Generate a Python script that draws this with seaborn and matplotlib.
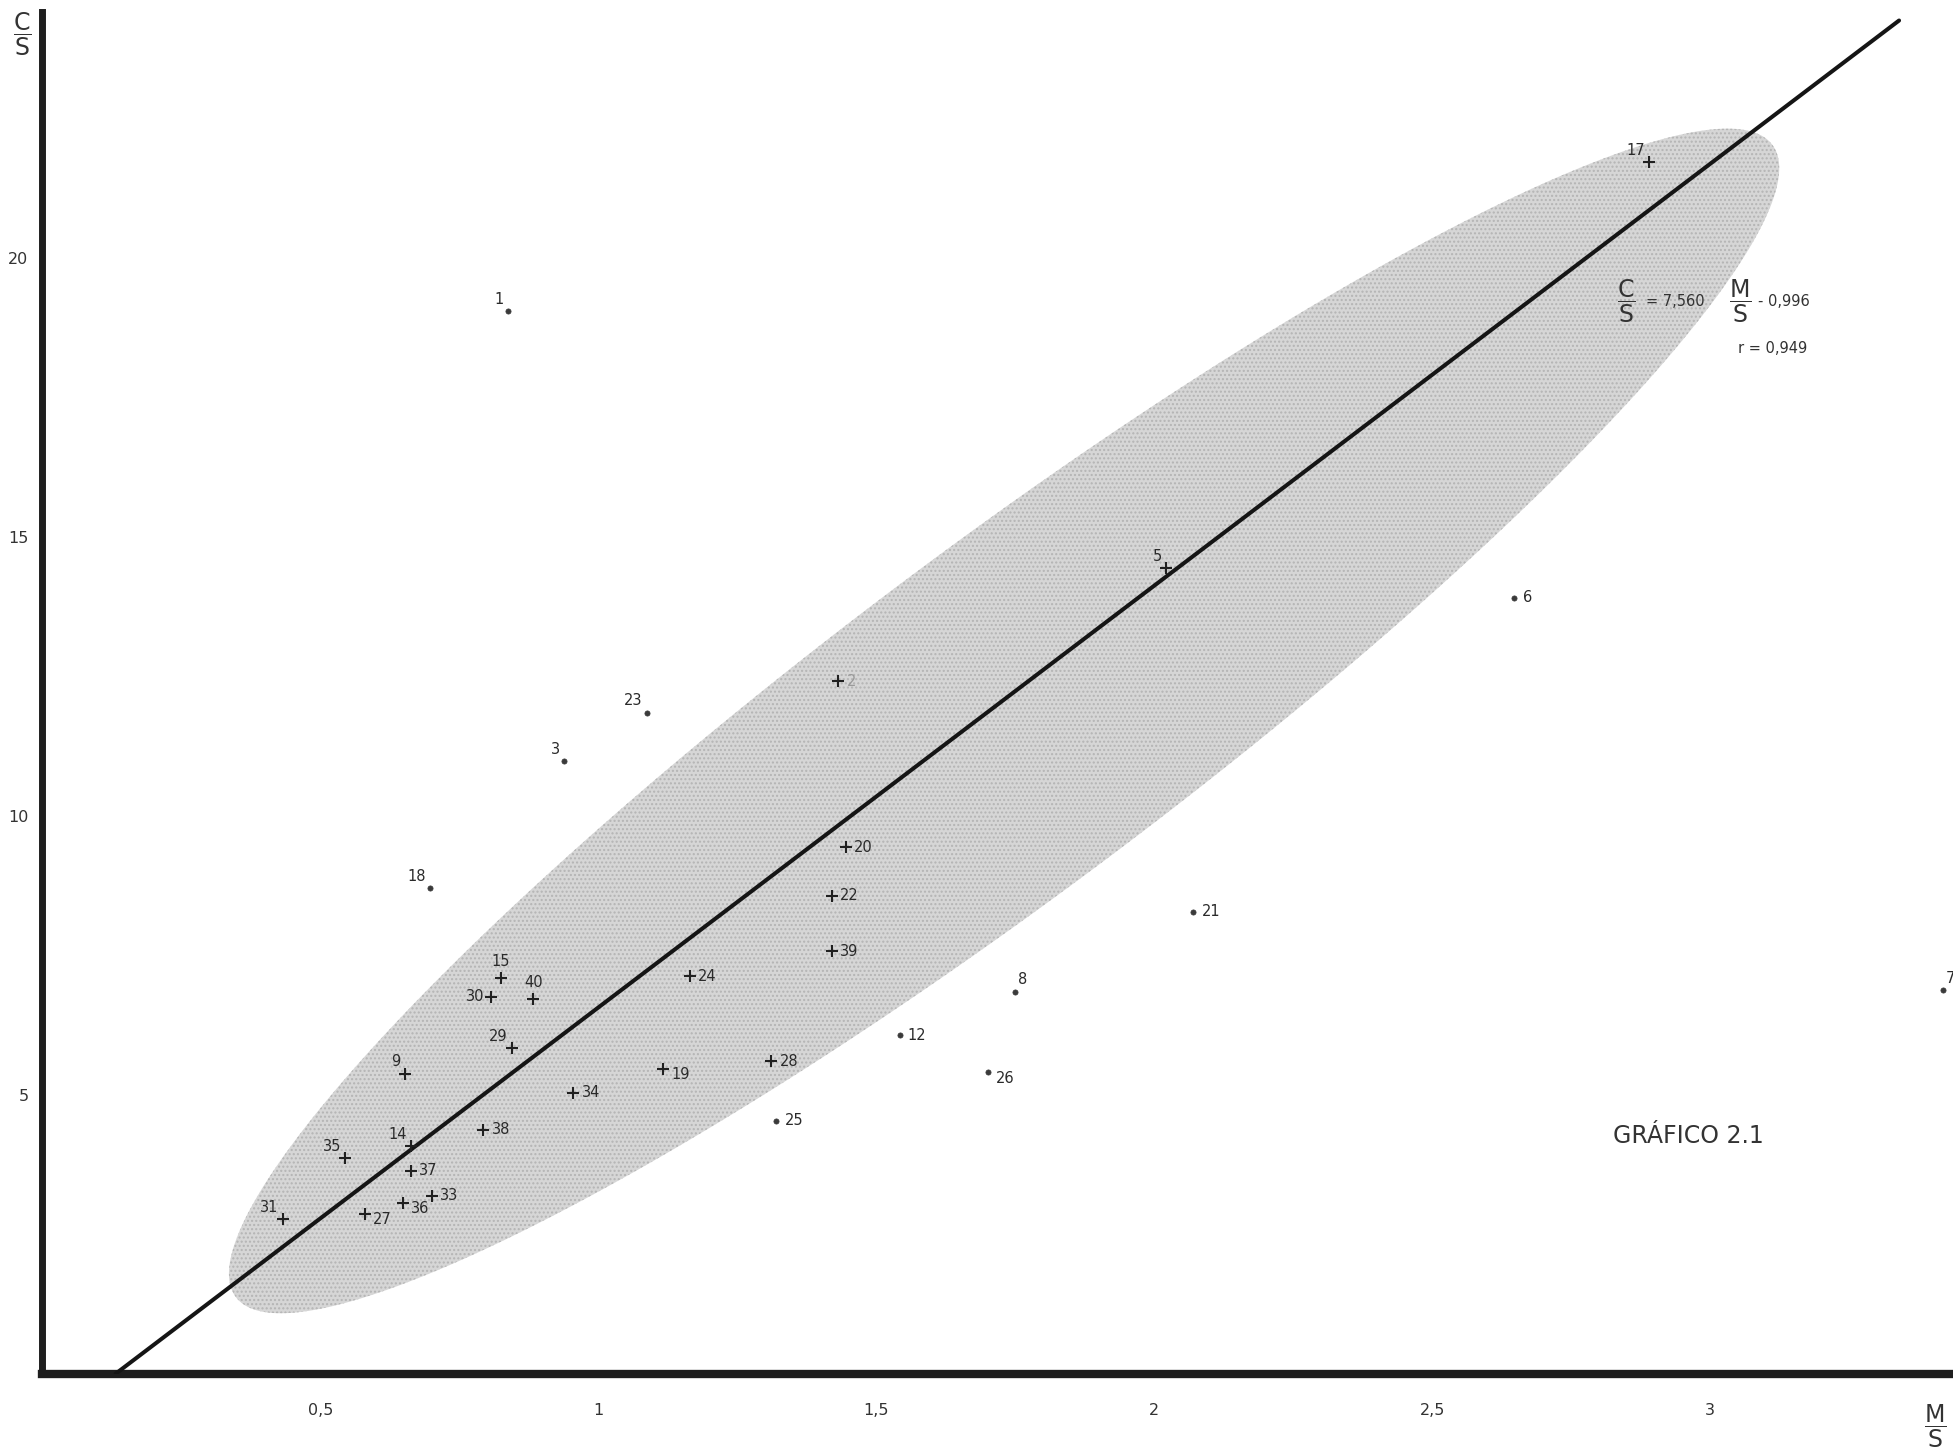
import numpy as np
import pandas as pd
import matplotlib
matplotlib.use("Agg")
import matplotlib.pyplot as plt
import seaborn as sns

# ---------------- data ----------------
plus_ids = ["2", "5", "9", "14", "15", "17", "19", "20", "22", "24", "27", "28",
            "29", "30", "31", "33", "34", "35", "36", "37", "38", "39", "40"]
plus_ms = [1.432, 2.021, 0.652, 0.663, 0.825, 2.890, 1.116, 1.445, 1.420, 1.165, 0.580, 1.311,
           0.845, 0.807, 0.432, 0.701, 0.955, 0.545, 0.648, 0.663, 0.793, 1.420, 0.883]
plus_cs = [12.41, 14.44, 5.38, 4.08, 7.10, 21.72, 5.47, 9.44, 8.57, 7.12, 2.86, 5.60,
           5.83, 6.76, 2.77, 3.19, 5.04, 3.86, 3.06, 3.64, 4.375, 7.57, 6.72]

circ_ids = ["1", "3", "6", "7", "8", "12", "18", "21", "23", "25", "26"]
circ_ms = [0.838, 0.939, 2.648, 3.419, 1.750, 1.542, 0.697, 2.070, 1.087, 1.320, 1.701]
circ_cs = [19.04, 10.98, 13.91, 6.875, 6.85, 6.07, 8.71, 8.28, 11.85, 4.53, 5.40]

slope = 7.560
intercept = -0.996
r_value = "0,949"
line_x_range = [-intercept / slope, 3.34]

x_ticks = [0.5, 1, 1.5, 2, 2.5, 3]
x_tick_labels = ["0,5", "1", "1,5", "2", "2,5", "3"]
y_ticks = [5, 10, 15, 20]
y_tick_labels = ["5", "10", "15", "20"]

# ellipse (concentration zone): centre, semi-major and semi-minor vectors in data units
ell_center = (1.730, 11.70)
ell_major = (1.382, 10.326)
ell_minor = (0.1855, -2.464)

# ---------------- label placement (style) ----------------
label_side = {
    "1": "ul", "3": "ul", "5": "ul", "9": "ul", "14": "ul", "17": "ul", "18": "ul",
    "23": "ul", "29": "ul", "31": "ul", "35": "ul",
    "15": "u", "40": "u", "30": "l", "8": "ur", "7": "ur",
    "19": "rd", "27": "rd", "36": "rd", "26": "rd",
}
side_fmt = {
    "r": ((6, 0), "left", "center"),
    "rd": ((6, -4), "left", "center"),
    "ul": ((-3, 3), "right", "bottom"),
    "u": ((0, 6), "center", "bottom"),
    "l": ((-5, 0), "right", "center"),
    "ur": ((2, 3), "left", "bottom"),
}

# ---------------- figure ----------------
sns.set_style("white")
plt.rcParams["font.family"] = ["DejaVu Sans"]

fig = plt.figure(figsize=(19.53, 14.56), dpi=100)
ax = fig.add_axes([0.0217, 0.0565, 0.9783, 0.935])

# ellipse
t = np.linspace(0, 2 * np.pi, 400)
ex = ell_center[0] + ell_major[0] * np.cos(t) + ell_minor[0] * np.sin(t)
ey = ell_center[1] + ell_major[1] * np.cos(t) + ell_minor[1] * np.sin(t)
ax.fill(ex, ey, facecolor="#d6d6d6", edgecolor="none", zorder=1)
ax.fill(ex, ey, facecolor="none", edgecolor="#b4b4b4", hatch="....", linewidth=0, zorder=1)

# regression line
lx = np.array(line_x_range)
reg = pd.DataFrame({"x": lx, "y": slope * lx + intercept})
sns.lineplot(data=reg, x="x", y="y", ax=ax, color="#151515", linewidth=2.9, zorder=3)

# points
dplus = pd.DataFrame({"id": plus_ids, "ms": plus_ms, "cs": plus_cs})
dcirc = pd.DataFrame({"id": circ_ids, "ms": circ_ms, "cs": circ_cs})
sns.scatterplot(data=dplus, x="ms", y="cs", ax=ax, marker="+", s=80,
                color="#202020", linewidth=1.5, zorder=4)
sns.scatterplot(data=dcirc, x="ms", y="cs", ax=ax, marker="o", s=14,
                color="#3a3a3a", edgecolor="#3a3a3a", linewidth=0.5, zorder=4)

for df in (dplus, dcirc):
    for _, row in df.iterrows():
        side = label_side.get(row["id"], "r")
        off, ha, va = side_fmt[side]
        col = "#9a9a9a" if row["id"] == "2" else "#2a2a2a"
        ax.annotate(row["id"], (row["ms"], row["cs"]), xytext=off,
                    textcoords="offset points", ha=ha, va=va,
                    fontsize=10.5, color=col, zorder=5, annotation_clip=False)

# axes styling
ax.set_xlim(0, 3.437)
ax.set_ylim(0, 24.4)
for s in ["top", "right"]:
    ax.spines[s].set_visible(False)
ax.spines["left"].set_linewidth(5)
ax.spines["bottom"].set_linewidth(6)
for s in ["left", "bottom"]:
    ax.spines[s].set_color("#1e1e1e")
ax.set_xticks(x_ticks)
ax.set_xticklabels(x_tick_labels)
ax.set_yticks(y_ticks)
ax.set_yticklabels(y_tick_labels)
ax.tick_params(axis="x", direction="out", length=10, width=1.2, pad=11,
               labelsize=11.5, colors="#333333")
ax.tick_params(axis="y", direction="out", length=7, width=1.2, pad=3,
               labelsize=11.5, colors="#333333")
ax.set_xlabel("")
ax.set_ylabel("")
ax.grid(False)

# axis titles as fractions
ax.text(-0.036, 24.0, r"$\dfrac{\mathrm{C}}{\mathrm{S}}$", fontsize=17,
        ha="center", va="center", color="#333333", clip_on=False)
ax.text(3.405, -0.95, r"$\dfrac{\mathrm{M}}{\mathrm{S}}$", fontsize=17,
        ha="center", va="center", color="#333333", clip_on=False)

# equation
ex0, ey0 = 2.832, 19.22
ax.text(ex0, ey0, r"$\dfrac{\mathrm{C}}{\mathrm{S}}$", fontsize=17,
        ha="left", va="center", color="#333333")
ax.annotate("= 7,560", (ex0, ey0), xytext=(21, 0), textcoords="offset points",
            ha="left", va="center", fontsize=10.5, color="#333333")
ax.annotate(r"$\dfrac{\mathrm{M}}{\mathrm{S}}$", (ex0, ey0), xytext=(81, 0),
            textcoords="offset points", ha="left", va="center", fontsize=17,
            color="#333333")
ax.annotate("- 0,996", (ex0, ey0), xytext=(102, 0), textcoords="offset points",
            ha="left", va="center", fontsize=10.5, color="#333333")
ax.annotate("r = " + r_value, (ex0, ey0), xytext=(87, -34), textcoords="offset points",
            ha="left", va="center", fontsize=10.5, color="#333333")

# chart caption
ax.text(2.826, 4.26, "GRÁFICO 2.1", fontsize=17, ha="left", va="center",
        color="#333333", family=["Liberation Sans Narrow", "DejaVu Sans"])

fig.savefig("out.png", dpi=100, facecolor="white")
